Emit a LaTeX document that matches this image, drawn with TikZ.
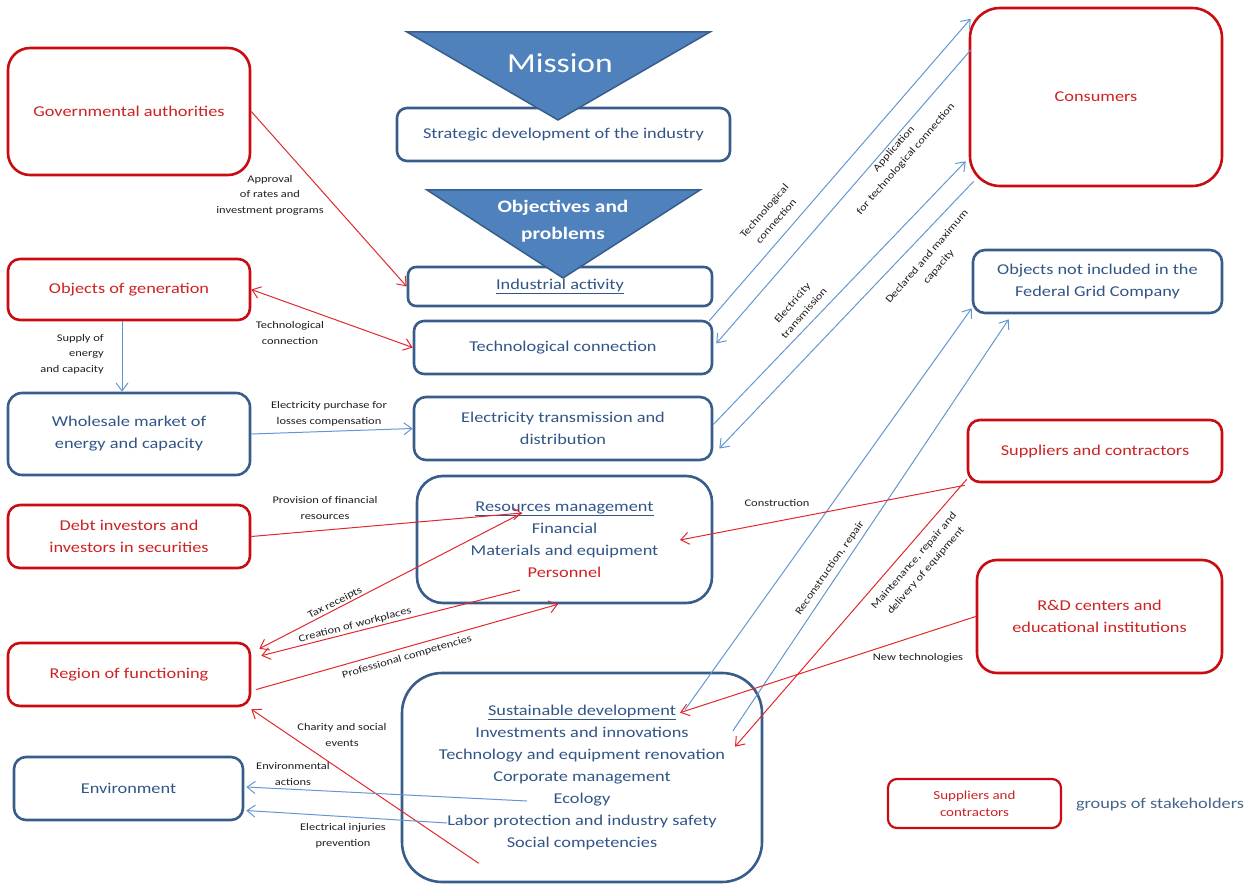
\documentclass[tikz,border=0pt]{standalone}
\usepackage{fontspec}
\setmainfont{Carlito}[FakeStretch=1.22]
\usetikzlibrary{arrows.meta,calc}
\definecolor{rB}{RGB}{200,12,18}
\definecolor{rT}{RGB}{205,35,35}
\definecolor{bB}{RGB}{56,93,138}
\definecolor{bT}{RGB}{50,85,135}
\definecolor{bA}{RGB}{100,150,210}
\definecolor{rA}{RGB}{225,40,45}
\definecolor{triF}{RGB}{79,129,189}
\definecolor{triB}{RGB}{56,93,138}
\definecolor{labc}{RGB}{30,30,30}
\definecolor{legT}{RGB}{70,100,140}
\begin{document}
\begin{tikzpicture}[x=1pt,y=-1pt,
  box/.style={draw, line width=2.6pt, fill=white, inner sep=0pt, align=center, font=\fontsize{15}{22}\selectfont},
  rbox/.style={box, draw=rB, text=rT},
  bbox/.style={box, draw=bB, text=bT},
  lab/.style={font=\fontsize{10.2}{15.5}\selectfont, text=labc, align=center, inner sep=0pt},
  ra/.style={draw=rA, line width=1pt, -{Straight Barb[length=8pt,width=12pt]}},
  ba/.style={draw=bA, line width=1pt, -{Straight Barb[length=8pt,width=12pt]}},
  rl/.style={draw=rA, line width=1pt},
  bl/.style={draw=bA, line width=1pt},
  tri/.style={fill=triF, draw=triB, line width=1.5pt}
]
\useasboundingbox (0,0) rectangle (1255,885);

% left column
\node[rbox, minimum width=242pt, minimum height=127pt, rounded corners=22pt] (gov) at (129,111.5) {Governmental authorities};
\node[rbox, minimum width=242pt, minimum height=61pt, rounded corners=12pt] (gen) at (129,289.5) {Objects of generation};
\node[bbox, minimum width=242pt, minimum height=82pt, rounded corners=14pt] (whole) at (129,434) {Wholesale market of\\energy and capacity};
\node[rbox, minimum width=242pt, minimum height=63pt, rounded corners=12pt] (debt) at (129,536.5) {Debt investors and\\investors in securities};
\node[rbox, minimum width=242pt, minimum height=63pt, rounded corners=12pt] (region) at (129,674.5) {Region of functioning};
\node[bbox, minimum width=229pt, minimum height=63pt, rounded corners=12pt] (env) at (128.5,788.5) {Environment};

% centre column
\node[bbox, minimum width=333pt, minimum height=53pt, rounded corners=10pt] (strat) at (563.5,134.5) {Strategic development of the industry};
\fill[tri] (407,32) -- (710,32) -- (558,120) -- cycle;
\node[text=white, font=\fontsize{27.5}{30}\selectfont, inner sep=0pt] (mission) at (560,63) {Mission};

\node[bbox, minimum width=304pt, minimum height=39pt, rounded corners=8pt] (ind) at (560,286.5) {\underline{Industrial activity}};
\fill[tri] (427,190) -- (700,190) -- (563,278) -- cycle;
\node[text=white, font=\bfseries\fontsize{17.5}{27}\selectfont, align=center, inner sep=0pt] (obj) at (563,221.5) {Objectives and\\problems};

\node[bbox, minimum width=298pt, minimum height=53pt, rounded corners=10pt] (tech) at (563,347.5) {Technological connection};
\node[bbox, minimum width=298pt, minimum height=63pt, rounded corners=12pt] (elec) at (563,428.5) {Electricity transmission  and\\distribution};
\node[bbox, minimum width=295pt, minimum height=127pt, rounded corners=26pt] (res) at (564.5,539.5) {\underline{Resources management}\\Financial\\Materials and equipment\\\textcolor{rT}{Personnel}};
\node[bbox, minimum width=360pt, minimum height=209pt, rounded corners=40pt] (sus) at (582,777.5) {\underline{Sustainable development}\\Investments and innovations\\Technology and equipment renovation\\Corporate management\\Ecology\\Labor protection and industry safety\\Social competencies};

% right column
\node[rbox, minimum width=252pt, minimum height=178pt, rounded corners=30pt] (cons) at (1096,97) {Consumers};
\node[bbox, minimum width=249pt, minimum height=63pt, rounded corners=12pt] (objn) at (1097.5,281.5) {Objects not included in the\\Federal Grid Company};
\node[rbox, minimum width=254pt, minimum height=62pt, rounded corners=12pt] (supp) at (1095,451) {Suppliers and contractors};
\node[rbox, minimum width=245pt, minimum height=113pt, rounded corners=20pt] (rd) at (1099.5,616.5) {R\&D centers and\\educational institutions};

% legend
\node[rbox, line width=2.2pt, minimum width=173pt, minimum height=49pt, rounded corners=9pt, font=\fontsize{12.3}{17}\selectfont] (leg) at (974.5,803.5) {Suppliers and\\contractors};
\node[text=legT, font=\fontsize{15}{16}\selectfont, inner sep=0pt] (legt) at (1160,805) {groups of stakeholders};

% connectors left
\draw[ra] (gov.east) -- (ind.west);
\draw[rl, {Straight Barb[length=8pt,width=12pt]}-{Straight Barb[length=8pt,width=12pt]}] (gen.east) -- (tech.west);
\draw[ba] ($(gen.south)+(-7,0)$) -- ($(whole.north)+(-7,0)$);
\draw[ba] (whole.east) -- (elec.west);
\coordinate (resT) at ($(res.center)+(-42.5,-26.5)$);
\draw[ra] (debt.east) -- (resT);
\draw[ra] (resT) -- ($(region.north east)+(8,7)$);
\draw[ra] ($(res.center)+(-44.5,50.5)$) -- ($(region.north east)+(10,14)$);
\draw[ra] ($(region.east)+(5,15)$) -- ($(res.south)+(-6.5,0)$);
\draw[ra] ($(sus.south west)+(78,-20)$) -- ($(region.south east)+(0,2)$);
\draw[ba] ($(sus.center)+(-55,23.5)$) -- ($(env.east)+(2,-1.5)$);
\draw[ba] ($(sus.center)+(-135,45.5)$) -- ($(env.east)+(2,22)$);

% connectors right
\draw[ba] ($(tech.north east)+(-4,1)$) -- ($(cons.north west)+(2,12)$);
\draw[ba] ($(cons.west)+(2,-47)$) -- ($(tech.east)+(3,-4)$);
\draw[ba] ($(elec.east)+(0,-4)$) -- ($(cons.south west)+(-3,-26)$);
\draw[ba] ($(cons.south west)+(5,-6)$) -- ($(elec.east)+(6,20)$);
\draw[ba] ($(sus.north)+(103,38)$) -- ($(objn.south west)+(0,-6)$);
\draw[ba] ($(sus.north)+(151,59)$) -- ($(objn.south west)+(37,5)$);
\draw[ra] ($(supp.south west)+(-2,2)$) -- ($(res.center)+(115.5,0.5)$);
\draw[ra] ($(supp.south west)+(0,-4)$) -- ($(sus.north)+(153,75)$);
\draw[ra] (rd.west) -- ($(sus.north)+(98,41)$);

% labels
\node[lab] (l1) at (270,195) {Approval\\of rates and\\investment programs};
\node[lab] (l2) at (290,333) {Technological\\connection};
\node[lab, align=right, anchor=east] (l3) at (104,354) {Supply of\\energy\\and capacity};
\node[lab] (l4) at (329,414) {Electricity purchase for\\losses compensation};
\node[lab] (l5) at (325,508) {Provision of financial\\resources};
\node[lab] (l6) at (777,503) {Construction};
\node[lab, rotate=27] (l7) at (335,603) {Tax receipts};
\node[lab, rotate=14.5] (l8) at (355,625) {Creation of workplaces};
\node[lab, rotate=16] (l9) at (407,657) {Professional competencies};
\node[lab] (l10) at (342,735) {Charity and social\\events};
\node[lab] (l11) at (293,774) {Environmental\\actions};
\node[lab] (l12) at (343,836) {Electrical injuries\\prevention};
\node[lab, rotate=49] (l13) at (770,216) {Technological\\connection};
\node[lab, rotate=49] (l14) at (900,154) {Application\\for technological connection};
\node[lab, rotate=49] (l15) at (798,308) {Electricity\\transmission};
\node[lab, rotate=49] (l16) at (933,262) {Declared and maximum\\capacity};
\node[lab, rotate=55] (l17) at (830,568) {Reconstruction, repair};
\node[lab, rotate=49] (l18) at (920,566) {Maintenance, repair and\\delivery of equipment};
\node[lab] (l19) at (918,658) {New technologies};
\end{tikzpicture}
\end{document}
